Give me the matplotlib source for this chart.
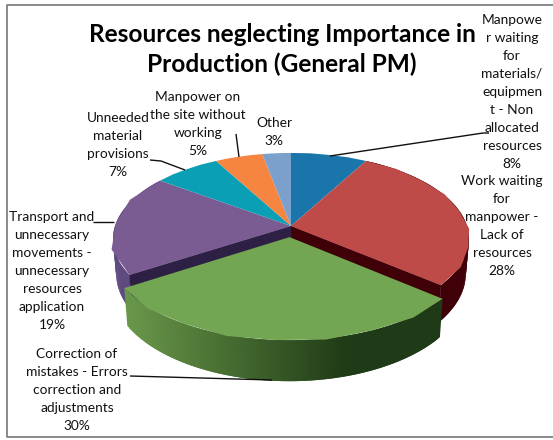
import numpy as np
import matplotlib
matplotlib.use("Agg")
import matplotlib.pyplot as plt
from matplotlib.path import Path
from matplotlib.patches import Polygon
from matplotlib.transforms import Transform
from matplotlib.colors import to_rgb

plt.rcParams['font.family'] = ['Lato', 'DejaVu Sans']

title = "Resources neglecting Importance in\nProduction (General PM)"
categories = [
    "Manpowe\nr waiting\nfor\nmaterials/\nequipmen\nt - Non\nallocated\nresources",
    "Work waiting\nfor\nmanpower -\nLack of\nresources",
    "Correction of\nmistakes - Errors\ncorrection and\nadjustments",
    "Transport and\nunnecessary\nmovements -\nunnecessary\nresources\napplication",
    "Unneeded\nmaterial\nprovisions",
    "Manpower on\nthe site without\nworking",
    "Other",
]
values = [8, 28, 30, 19, 7, 5, 3]
colors = ['#1a75ab', '#be4b48', '#73a652', '#7a5c93', '#0a9fb5', '#f58540', '#7ba0cb']
explode = [0, 0, 0.13, 0, 0, 0, 0]
label_xy = [(512, 92), (502, 226), (77, 390), (52, 271), (118, 145), (198, 124), (274, 132)]
leaders = [
    [(330, 156), (483, 133), (489, 133)],
    None,
    [(130, 376), (272, 380)],
    [(93, 222), (114, 222)],
    [(150, 160), (161, 161), (185, 170)],
    [(236, 134), (239, 157)],
    None,
]

CX, CY, AX_, BY, K, H = 291.0, 226.0, 176.0, 84.0, 0.15, 34.0
BOTTOM_SHRINK = 0.982


def project(xy):
    xy = np.asarray(xy, float)
    d = 1 + K * xy[:, 1]
    return np.column_stack((CX + AX_ * xy[:, 0] / d, CY - BY * xy[:, 1] / d))


class Perspective(Transform):
    input_dims = output_dims = 2
    is_affine = False

    def transform_non_affine(self, values):
        return project(values)

    def transform_path_non_affine(self, path):
        polys = path.to_polygons(closed_only=True)
        return Path(project(polys[0]), closed=True)


fig = plt.figure(figsize=(5.53, 4.40), dpi=100)
ax = fig.add_axes([0, 0, 1, 1])
persp = Perspective()


def mix(a, b, t):
    a, b = np.array(to_rgb(a)), np.array(to_rgb(b))
    return tuple(a + (b - a) * t)


fracs = np.array(values, float) / sum(values)
ends = np.cumsum(fracs) * 2 * np.pi
starts = ends - fracs * 2 * np.pi


def offset(i):
    m = (starts[i] + ends[i]) / 2
    return np.array([np.sin(m), np.cos(m)]) * explode[i]


def wall_poly(p0, p1):
    pts = np.array([p0, p1])
    top = project(pts)
    d = 1 + K * pts[:, 1]
    bot = np.column_stack((CX + (top[:, 0] - CX) * BOTTOM_SHRINK, top[:, 1] + H / d))
    return np.vstack((top, bot[::-1]))


def outer_wall(i, c_left, c_right, x0, x1, z):
    th = np.linspace(starts[i], ends[i], 80)
    pts = np.column_stack((np.sin(th), np.cos(th))) + offset(i)
    if project(pts)[0, 0] > project(pts)[-1, 0]:
        pts = pts[::-1]
    for a, b in zip(pts[:-2], pts[2:]):
        q = wall_poly(a, b)
        t = np.clip((q[:, 0].mean() - x0) / (x1 - x0), 0, 1)
        ax.add_patch(Polygon(q, closed=True, fc=mix(c_left, c_right, t), lw=0, zorder=z))


def radial_wall(i, angle, col, z):
    off = offset(i)
    p = np.array([np.sin(angle), np.cos(angle)]) + off
    ax.add_patch(Polygon(wall_poly(off, p), closed=True, fc=col, ec=col, lw=0.4, zorder=z))


wedges, _ = ax.pie(values, colors=colors, explode=explode, startangle=90,
                   counterclock=False, radius=1)
ax.set_aspect('auto')
ax.set_xlim(0, 553)
ax.set_ylim(440, 0)
ax.set_axis_off()

for i, w in enumerate(wedges):
    w.set_transform(persp + ax.transData)
    w.set_linewidth(0)
    w.set_zorder(5 if i != 2 else 7)
    w.set_clip_on(False)

outer_wall(1, '#3f0008', '#3f0008', 0, 553, 2)
outer_wall(3, '#5f4a80', '#5f4a80', 0, 553, 2)
radial_wall(1, ends[1], '#3f0008', 3)
radial_wall(3, starts[3], '#2e2045', 3)
outer_wall(2, '#6b9a4b', '#1f3a16', 123, 350, 6)

fs = 9.9
for i, (name, val, (x, y)) in enumerate(zip(categories, values, label_xy)):
    ax.text(x, y, f"{name}\n{val}%", ha='center', va='center', fontsize=fs,
            color='#111111', linespacing=1.6, zorder=10)
    if leaders[i]:
        xs, ys = zip(*leaders[i])
        ax.plot(xs, ys, color='#111111', lw=1.0, zorder=9, solid_capstyle='butt')

ax.text(282, 49.5, title, ha='center', va='center', fontsize=17.6, fontweight='bold',
        color='black', linespacing=1.38, zorder=10)

ax.plot([553, 6.5, 6.5, 553], [5.5, 5.5, 437.5, 437.5], color='#808080', lw=1.3, zorder=1)

fig.savefig('out.png', dpi=100)
